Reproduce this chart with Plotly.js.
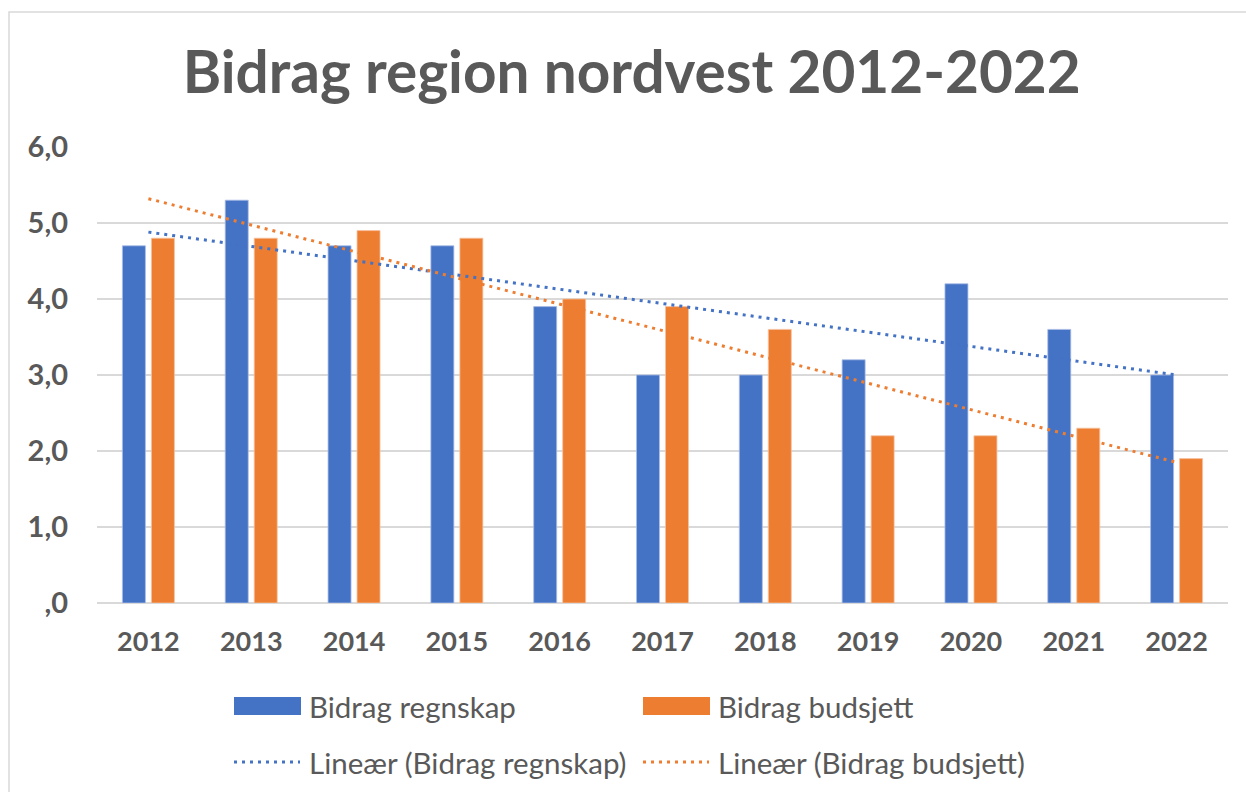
<!DOCTYPE html>
<html>
<head>
<meta charset="utf-8">
<script src="https://cdn.plot.ly/plotly-3.0.1.min.js"></script>
<style>html,body{margin:0;padding:0;background:#fff;}#chart{width:1246px;height:792px;}</style>
</head>
<body>
<div id="chart"></div>
<script>
// ---- data ----
var years = ["2012","2013","2014","2015","2016","2017","2018","2019","2020","2021","2022"];
var regnskap = [4.7, 5.3, 4.7, 4.7, 3.9, 3.0, 3.0, 3.2, 4.2, 3.6, 3.0];
var budsjett = [4.8, 4.8, 4.9, 4.8, 4.0, 3.9, 3.6, 2.2, 2.2, 2.3, 1.9];
var trendYears = ["2012", "2022"];
var trendRegnskap = [4.88, 3.0];
var trendBudsjett = [5.32, 1.85];
var yTickVals = [0, 1, 2, 3, 4, 5, 6];
var yTickText = [",0", "1,0", "2,0", "3,0", "4,0", "5,0", "6,0"];
var seriesNames = ["Bidrag regnskap", "Bidrag budsjett", "Lineær (Bidrag regnskap)", "Lineær (Bidrag budsjett)"];
var titleText = "Bidrag region nordvest 2012-2022";

// ---- style ----
var BLUE = "#4472C4", ORANGE = "#ED7D31", GRAY = "#595959", GRID = "#d9d9d9";
var FONT = "Lato, 'Open Sans', sans-serif";
var W = 1246, H = 792;
var M = {l: 97, r: 18, t: 147, b: 189};
var PW = W - M.l - M.r, PH = H - M.t - M.b;
function px(x) { return (x - M.l) / PW; }
function py(y) { return (H - M.b - y) / PH; }

var traces = [
  {type: "bar", x: years, y: regnskap, name: seriesNames[0],
   marker: {color: BLUE, line: {color: "#a9bde6", width: 0.8}}, hoverinfo: "x+y"},
  {type: "bar", x: years, y: budsjett, name: seriesNames[1],
   marker: {color: ORANGE, line: {color: "#f6c2a0", width: 0.8}}, hoverinfo: "x+y"},
  {type: "scatter", mode: "lines", x: trendYears, y: trendRegnskap, name: seriesNames[2],
   line: {color: BLUE, width: 3, dash: "3px,5px"}},
  {type: "scatter", mode: "lines", x: trendYears, y: trendBudsjett, name: seriesNames[3],
   line: {color: ORANGE, width: 3, dash: "3px,5px"}}
];

// legend built from series names
var legCols = [234, 643];
var legRows = [706, 762];
var shapes = [
  {type: "rect", xref: "paper", yref: "paper", x0: px(9), x1: px(1252), y0: py(12), y1: py(800),
   line: {color: GRID, width: 1.5}, fillcolor: "rgba(0,0,0,0)", layer: "below"}
];
var annotations = [];
var legColors = [BLUE, ORANGE, BLUE, ORANGE];
for (var i = 0; i < 4; i++) {
  var col = i % 2, row = Math.floor(i / 2);
  var x0 = legCols[col], yc = legRows[row];
  if (row === 0) {
    shapes.push({type: "rect", xref: "paper", yref: "paper", x0: px(x0), x1: px(x0 + 67),
      y0: py(yc + 9), y1: py(yc - 9), line: {width: 0}, fillcolor: legColors[i]});
  } else {
    shapes.push({type: "line", xref: "paper", yref: "paper", x0: px(x0), x1: px(x0 + 66),
      y0: py(yc), y1: py(yc), line: {color: legColors[i], width: 3, dash: "3px,5px"}});
  }
  annotations.push({xref: "paper", yref: "paper", x: px(x0 + 73), y: py(yc), xanchor: "left", yanchor: "middle",
    text: seriesNames[i], showarrow: false, font: {family: FONT, size: 29.5, color: GRAY}});
}

var layout = {
  width: W, height: H,
  margin: M,
  paper_bgcolor: "#ffffff", plot_bgcolor: "#ffffff",
  showlegend: false,
  barmode: "group", bargap: 0.436, bargroupgap: 0.207,
  title: {text: "<b>" + titleText + "</b>", x: 0.507, xanchor: "center", y: 1 - 73 / H, yanchor: "middle",
          yref: "container", font: {family: FONT, size: 58.5, color: GRAY}},
  xaxis: {type: "category", tickfont: {family: FONT, size: 27, color: GRAY, weight: "bold"},
          showgrid: false, showline: false, ticks: "", ticklabelstandoff: 20, fixedrange: true},
  yaxis: {range: [0, 6], tickvals: yTickVals, ticktext: yTickText,
          tickfont: {family: FONT, size: 29, color: GRAY, weight: "bold"},
          showgrid: true, gridcolor: GRID, gridwidth: 1.5, zeroline: true, zerolinecolor: GRID, zerolinewidth: 1.5,
          showline: false, ticks: "", ticklabelstandoff: 28, fixedrange: true},
  shapes: shapes,
  annotations: annotations
};

Plotly.newPlot("chart", traces, layout, {displayModeBar: false, staticPlot: true});
</script>
</body>
</html>
